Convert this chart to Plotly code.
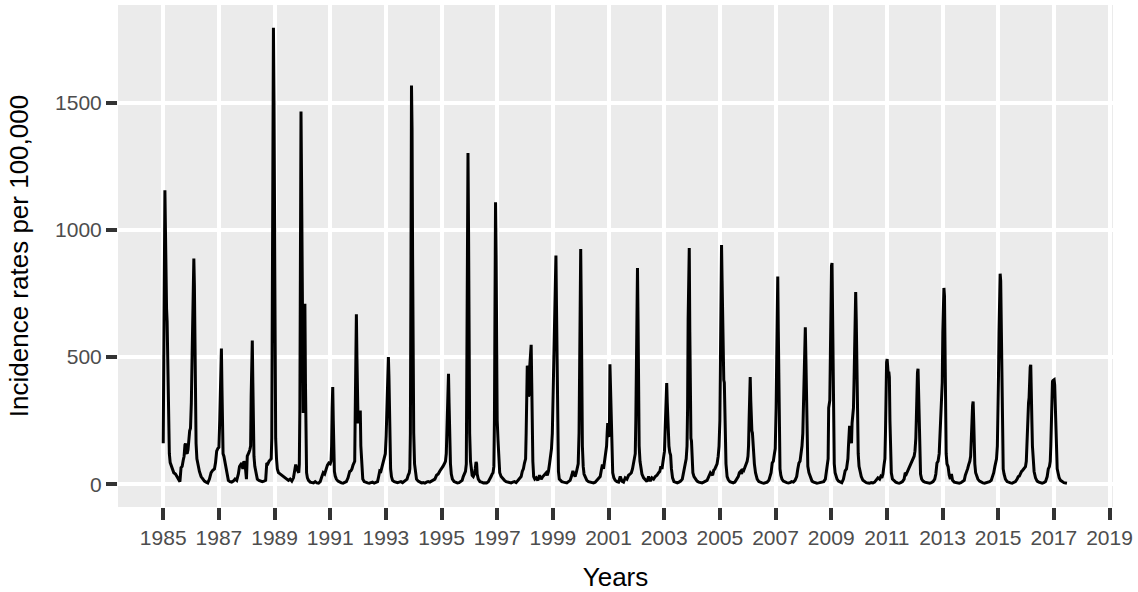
import plotly.graph_objects as go

# Weekly influenza-like illness incidence (per 100,000).
# Time in decimal years; one line per epidemic season.
time_years = [
    1985.00, 1985.04, 1985.06, 1985.08, 1985.10, 1985.12, 1985.14, 1985.16, 1985.18, 1985.20, 1985.22, 1985.25, 1985.29, 1985.33, 1985.38, 1985.44, 1985.50, 1985.56, 1985.60,
    1985.64, 1985.68, 1985.72, 1985.75, 1985.78, 1985.80, 1985.83, 1985.86, 1985.89, 1985.92, 1985.95, 1985.98, 1986.01, 1986.04, 1986.06, 1986.08, 1986.10, 1986.12, 1986.14, 1986.16, 1986.18, 1986.21, 1986.25, 1986.30, 1986.36, 1986.42, 1986.48, 1986.54, 1986.60,
    1986.66, 1986.72, 1986.78, 1986.84, 1986.88, 1986.92, 1986.96, 1987.00, 1987.03, 1987.05, 1987.07, 1987.09, 1987.11, 1987.13, 1987.15, 1987.18, 1987.21, 1987.25, 1987.29, 1987.34, 1987.40, 1987.46, 1987.52, 1987.58, 1987.64,
    1987.70, 1987.74, 1987.78, 1987.82, 1987.86, 1987.90, 1987.94, 1987.97, 1987.99, 1988.02, 1988.05, 1988.08, 1988.11, 1988.14, 1988.16, 1988.18, 1988.20, 1988.22, 1988.24, 1988.26, 1988.29, 1988.33, 1988.38, 1988.44, 1988.50, 1988.56, 1988.62, 1988.68,
    1988.72, 1988.76, 1988.80, 1988.84, 1988.88, 1988.90, 1988.92, 1988.94, 1988.96, 1988.98, 1989.00, 1989.02, 1989.04, 1989.07, 1989.10, 1989.14, 1989.20, 1989.26, 1989.32, 1989.38, 1989.44, 1989.50, 1989.56, 1989.62, 1989.68,
    1989.72, 1989.76, 1989.80, 1989.84, 1989.87, 1989.89, 1989.91, 1989.93, 1989.95, 1989.97, 1989.99, 1990.01, 1990.03, 1990.05, 1990.07, 1990.09, 1990.11, 1990.13, 1990.15, 1990.18, 1990.22, 1990.28, 1990.34, 1990.40, 1990.46, 1990.52, 1990.58, 1990.64,
    1990.70, 1990.75, 1990.80, 1990.85, 1990.90, 1990.95, 1991.00, 1991.03, 1991.05, 1991.07, 1991.09, 1991.11, 1991.13, 1991.15, 1991.18, 1991.22, 1991.28, 1991.34, 1991.40, 1991.46, 1991.52, 1991.58, 1991.64,
    1991.70, 1991.74, 1991.78, 1991.82, 1991.85, 1991.88, 1991.90, 1991.92, 1991.94, 1991.96, 1991.98, 1992.00, 1992.02, 1992.04, 1992.06, 1992.08, 1992.10, 1992.13, 1992.17, 1992.22, 1992.28, 1992.34, 1992.40, 1992.46, 1992.52, 1992.58, 1992.64, 1992.70,
    1992.74, 1992.78, 1992.82, 1992.86, 1992.90, 1992.94, 1992.98, 1993.01, 1993.03, 1993.05, 1993.07, 1993.09, 1993.11, 1993.13, 1993.15, 1993.17, 1993.20, 1993.24, 1993.30, 1993.36, 1993.42, 1993.48, 1993.54, 1993.60, 1993.66, 1993.72,
    1993.76, 1993.80, 1993.84, 1993.86, 1993.88, 1993.90, 1993.92, 1993.94, 1993.96, 1993.98, 1994.00, 1994.03, 1994.06, 1994.10, 1994.16, 1994.22, 1994.28, 1994.34, 1994.40, 1994.46, 1994.52, 1994.58, 1994.64, 1994.70,
    1994.76, 1994.82, 1994.88, 1994.94, 1995.00, 1995.05, 1995.10, 1995.14, 1995.17, 1995.19, 1995.21, 1995.23, 1995.25, 1995.27, 1995.29, 1995.32, 1995.35, 1995.39, 1995.45, 1995.51, 1995.57, 1995.63, 1995.69,
    1995.74, 1995.78, 1995.82, 1995.86, 1995.89, 1995.91, 1995.93, 1995.95, 1995.97, 1995.99, 1996.01, 1996.04, 1996.07, 1996.10, 1996.14, 1996.18, 1996.21, 1996.24, 1996.26, 1996.28, 1996.32, 1996.38, 1996.44, 1996.50, 1996.56, 1996.62, 1996.68,
    1996.74, 1996.78, 1996.82, 1996.85, 1996.88, 1996.90, 1996.92, 1996.94, 1996.96, 1996.98, 1997.00, 1997.03, 1997.06, 1997.09, 1997.14, 1997.20, 1997.26, 1997.32, 1997.38, 1997.44, 1997.50, 1997.56, 1997.62, 1997.68, 1997.74, 1997.80,
    1997.86, 1997.90, 1997.94, 1997.98, 1998.02, 1998.04, 1998.06, 1998.08, 1998.10, 1998.12, 1998.14, 1998.16, 1998.18, 1998.20, 1998.22, 1998.24, 1998.26, 1998.28, 1998.31, 1998.35, 1998.40, 1998.46, 1998.52, 1998.58, 1998.64, 1998.70, 1998.76, 1998.80, 1998.84,
    1998.88, 1998.92, 1998.95, 1998.98, 1999.01, 1999.04, 1999.07, 1999.09, 1999.11, 1999.13, 1999.15, 1999.17, 1999.20, 1999.23, 1999.27, 1999.32, 1999.38, 1999.44, 1999.50, 1999.56, 1999.62, 1999.68,
    1999.72, 1999.76, 1999.80, 1999.84, 1999.88, 1999.91, 1999.94, 1999.96, 1999.98, 2000.00, 2000.02, 2000.04, 2000.06, 2000.09, 2000.12, 2000.16, 2000.22, 2000.28, 2000.34, 2000.40, 2000.46, 2000.52, 2000.58, 2000.64,
    2000.70, 2000.74, 2000.78, 2000.82, 2000.86, 2000.90, 2000.93, 2000.95, 2000.97, 2000.99, 2001.01, 2001.03, 2001.05, 2001.07, 2001.09, 2001.12, 2001.15, 2001.19, 2001.24, 2001.30, 2001.36, 2001.42, 2001.48, 2001.54, 2001.60, 2001.66, 2001.72, 2001.78,
    2001.82, 2001.86, 2001.90, 2001.93, 2001.96, 2001.98, 2002.00, 2002.02, 2002.04, 2002.06, 2002.08, 2002.10, 2002.13, 2002.16, 2002.20, 2002.26, 2002.32, 2002.38, 2002.44, 2002.50, 2002.56, 2002.62, 2002.68, 2002.74, 2002.80,
    2002.84, 2002.88, 2002.92, 2002.95, 2002.98, 2003.01, 2003.03, 2003.05, 2003.07, 2003.09, 2003.11, 2003.13, 2003.15, 2003.17, 2003.20, 2003.23, 2003.26, 2003.30, 2003.35, 2003.41, 2003.47, 2003.53, 2003.59, 2003.65,
    2003.72, 2003.76, 2003.79, 2003.82, 2003.84, 2003.86, 2003.88, 2003.90, 2003.92, 2003.94, 2003.96, 2003.98, 2004.00, 2004.03, 2004.07, 2004.12, 2004.18, 2004.24, 2004.30, 2004.36, 2004.42, 2004.48, 2004.54, 2004.60, 2004.66,
    2004.70, 2004.74, 2004.78, 2004.82, 2004.86, 2004.90, 2004.94, 2004.97, 2005.00, 2005.02, 2005.04, 2005.06, 2005.08, 2005.10, 2005.12, 2005.14, 2005.16, 2005.19, 2005.22, 2005.26, 2005.30, 2005.36, 2005.42, 2005.48, 2005.54, 2005.60, 2005.66,
    2005.70, 2005.74, 2005.78, 2005.82, 2005.86, 2005.90, 2005.94, 2005.98, 2006.01, 2006.03, 2006.05, 2006.07, 2006.09, 2006.11, 2006.13, 2006.15, 2006.17, 2006.20, 2006.24, 2006.28, 2006.34, 2006.40, 2006.46, 2006.52, 2006.58, 2006.64, 2006.70, 2006.76,
    2006.80, 2006.84, 2006.88, 2006.92, 2006.96, 2006.99, 2007.02, 2007.04, 2007.06, 2007.08, 2007.10, 2007.12, 2007.14, 2007.16, 2007.19, 2007.23, 2007.28, 2007.34, 2007.40, 2007.46, 2007.52, 2007.58, 2007.64, 2007.70, 2007.76,
    2007.80, 2007.84, 2007.88, 2007.92, 2007.95, 2007.98, 2008.01, 2008.03, 2008.05, 2008.07, 2008.09, 2008.11, 2008.13, 2008.16, 2008.20, 2008.25, 2008.31, 2008.37, 2008.43, 2008.49, 2008.55, 2008.61, 2008.67, 2008.73, 2008.79,
    2008.82, 2008.86, 2008.89, 2008.91, 2008.93, 2008.95, 2008.97, 2008.99, 2009.01, 2009.03, 2009.05, 2009.07, 2009.09, 2009.11, 2009.14, 2009.17, 2009.21, 2009.26, 2009.32, 2009.38, 2009.44, 2009.50,
    2009.55, 2009.58, 2009.60, 2009.62, 2009.64, 2009.66, 2009.68, 2009.71, 2009.73, 2009.75, 2009.78, 2009.80, 2009.82, 2009.84, 2009.86, 2009.88, 2009.90, 2009.92, 2009.94, 2009.97, 2010.00, 2010.04, 2010.08, 2010.14, 2010.20, 2010.26, 2010.32, 2010.38, 2010.44, 2010.50, 2010.56, 2010.62, 2010.68,
    2010.74, 2010.78, 2010.82, 2010.86, 2010.90, 2010.93, 2010.95, 2010.97, 2010.99, 2011.01, 2011.03, 2011.05, 2011.07, 2011.09, 2011.11, 2011.13, 2011.16, 2011.20, 2011.26, 2011.32, 2011.38, 2011.44, 2011.50, 2011.56, 2011.62,
    2011.66, 2011.70, 2011.74, 2011.78, 2011.82, 2011.86, 2011.90, 2011.94, 2011.98, 2012.01, 2012.04, 2012.06, 2012.08, 2012.10, 2012.12, 2012.14, 2012.16, 2012.18, 2012.21, 2012.25, 2012.30, 2012.36, 2012.42, 2012.48, 2012.54, 2012.60, 2012.66, 2012.72,
    2012.76, 2012.80, 2012.84, 2012.88, 2012.91, 2012.93, 2012.96, 2012.99, 2013.01, 2013.03, 2013.05, 2013.07, 2013.09, 2013.11, 2013.13, 2013.16, 2013.20, 2013.24, 2013.28, 2013.32, 2013.36, 2013.42, 2013.48, 2013.54, 2013.60, 2013.66, 2013.72, 2013.78,
    2013.82, 2013.86, 2013.90, 2013.94, 2013.98, 2014.01, 2014.04, 2014.06, 2014.08, 2014.10, 2014.12, 2014.14, 2014.16, 2014.19, 2014.22, 2014.27, 2014.33, 2014.39, 2014.45, 2014.51, 2014.57, 2014.63, 2014.69, 2014.75, 2014.80,
    2014.84, 2014.88, 2014.91, 2014.94, 2014.97, 2014.99, 2015.01, 2015.03, 2015.05, 2015.07, 2015.09, 2015.11, 2015.13, 2015.15, 2015.18, 2015.21, 2015.26, 2015.32, 2015.38, 2015.44, 2015.50, 2015.56, 2015.62, 2015.68, 2015.72,
    2015.76, 2015.80, 2015.84, 2015.88, 2015.92, 2015.95, 2015.98, 2016.01, 2016.03, 2016.05, 2016.07, 2016.09, 2016.11, 2016.13, 2016.15, 2016.17, 2016.19, 2016.21, 2016.23, 2016.26, 2016.29, 2016.34, 2016.40, 2016.46, 2016.52, 2016.58, 2016.64, 2016.70, 2016.76,
    2016.80, 2016.84, 2016.87, 2016.89, 2016.91, 2016.93, 2016.95, 2016.97, 2016.99, 2017.01, 2017.03, 2017.05, 2017.07, 2017.09, 2017.12, 2017.15, 2017.19, 2017.24, 2017.30, 2017.36, 2017.42, 2017.47,
]

incidence = [
    161, 700, 1156, 1000, 720, 690, 640, 480, 330, 200, 120, 85, 70, 60, 45, 40, 28, 15, 10,
    65, 70, 95, 110, 155, 160, 125, 120, 135, 180, 210, 220, 320, 520, 650, 780, 888, 780, 500, 300, 160, 100, 75, 50, 30, 18, 12, 8, 5,
    20, 45, 55, 60, 85, 130, 140, 145, 250, 400, 520, 534, 380, 200, 120, 110, 90, 60, 30, 15, 10, 8, 12, 20, 15,
    40, 69, 75, 83, 60, 90, 80, 45, 20, 110, 115, 125, 135, 150, 350, 500, 565, 400, 200, 110, 70, 40, 20, 15, 12, 10, 12, 15,
    83, 80, 90, 96, 100, 180, 600, 1300, 1795, 1500, 900, 400, 180, 100, 60, 45, 40, 35, 32, 25, 20, 15, 20, 12, 25,
    50, 77, 60, 50, 45, 80, 300, 900, 1466, 1200, 700, 400, 280, 500, 700, 710, 400, 120, 45, 25, 15, 8, 5, 5, 10, 5, 4, 10,
    30, 45, 40, 60, 75, 83, 80, 90, 150, 300, 382, 250, 100, 50, 32, 20, 12, 8, 5, 4, 6, 10, 25,
    50, 52, 60, 75, 83, 90, 300, 600, 668, 500, 300, 240, 250, 270, 280, 290, 150, 60, 20, 10, 6, 5, 4, 5, 8, 4, 6, 10,
    30, 52, 50, 65, 83, 95, 120, 190, 300, 420, 480, 500, 420, 250, 120, 60, 30, 15, 10, 8, 6, 8, 10, 6, 10, 15,
    20, 35, 45, 60, 200, 800, 1568, 1400, 900, 450, 200, 80, 40, 20, 12, 8, 5, 6, 4, 8, 10, 8, 12, 15,
    20, 35, 40, 52, 60, 70, 80, 90, 120, 200, 330, 420, 434, 320, 180, 80, 40, 20, 10, 6, 5, 6, 10,
    15, 30, 39, 50, 80, 400, 1000, 1303, 1000, 500, 200, 90, 45, 35, 30, 40, 60, 88, 80, 40, 20, 10, 8, 5, 6, 5, 10,
    20, 30, 40, 45, 70, 250, 700, 1109, 900, 500, 250, 170, 70, 45, 30, 20, 15, 10, 8, 6, 5, 8, 10, 6, 15, 25,
    30, 50, 60, 83, 100, 200, 380, 466, 460, 345, 350, 450, 500, 530, 548, 400, 200, 90, 30, 20, 25, 15, 35, 20, 30, 40, 45, 35, 50,
    80, 120, 140, 200, 350, 550, 780, 880, 899, 700, 400, 150, 50, 20, 15, 10, 8, 6, 5, 10, 15, 35,
    52, 40, 30, 45, 60, 80, 200, 600, 880, 925, 700, 350, 150, 70, 40, 30, 15, 10, 8, 6, 5, 8, 15, 25,
    30, 55, 77, 60, 90, 110, 150, 200, 240, 230, 190, 188, 472, 380, 200, 83, 45, 25, 15, 10, 8, 30, 12, 8, 25, 20, 35, 40,
    45, 60, 80, 96, 120, 250, 500, 780, 850, 650, 350, 150, 90, 69, 40, 25, 15, 10, 30, 12, 25, 20, 30, 35, 45,
    50, 70, 60, 83, 100, 130, 200, 300, 380, 398, 320, 220, 201, 150, 125, 115, 60, 25, 10, 6, 5, 8, 12, 20,
    69, 80, 100, 150, 300, 650, 880, 929, 600, 250, 180, 170, 90, 45, 30, 20, 12, 8, 6, 5, 8, 12, 15, 30, 45,
    40, 35, 55, 60, 70, 80, 110, 150, 250, 450, 750, 941, 800, 600, 450, 410, 399, 200, 80, 30, 18, 10, 6, 5, 8, 20, 30,
    45, 50, 40, 60, 55, 65, 77, 90, 110, 150, 250, 380, 421, 330, 250, 210, 201, 120, 80, 45, 20, 10, 6, 5, 4, 6, 8, 15,
    30, 45, 83, 90, 120, 140, 300, 600, 780, 817, 600, 300, 120, 60, 35, 20, 12, 8, 6, 5, 6, 10, 8, 15, 30,
    60, 83, 90, 120, 150, 200, 320, 450, 570, 617, 500, 300, 150, 70, 45, 25, 12, 8, 5, 4, 5, 6, 8, 10, 20,
    40, 70, 100, 300, 320, 330, 500, 750, 860, 870, 700, 400, 180, 80, 45, 30, 20, 12, 8, 6, 20, 52,
    60, 80, 100, 150, 214, 230, 200, 170, 161, 240, 266, 300, 400, 600, 740, 756, 650, 450, 250, 120, 70, 45, 30, 15, 10, 6, 5, 4, 6, 5, 8, 15, 25,
    20, 30, 25, 40, 77, 100, 200, 380, 480, 492, 440, 430, 443, 420, 250, 100, 45, 20, 12, 8, 5, 4, 6, 10, 20,
    45, 40, 50, 60, 70, 75, 83, 95, 110, 130, 180, 260, 380, 440, 454, 350, 200, 90, 40, 20, 12, 8, 6, 5, 4, 6, 10, 20,
    40, 83, 90, 120, 200, 253, 280, 400, 600, 740, 772, 740, 500, 250, 120, 80, 69, 35, 20, 40, 15, 8, 6, 5, 4, 6, 10, 15,
    35, 45, 60, 77, 90, 110, 170, 250, 310, 325, 250, 150, 80, 45, 32, 20, 12, 8, 5, 4, 6, 5, 10, 15, 30,
    45, 69, 80, 100, 150, 250, 420, 600, 780, 828, 800, 600, 300, 120, 60, 40, 20, 10, 6, 5, 4, 6, 10, 20, 30,
    32, 45, 50, 55, 60, 65, 69, 90, 150, 280, 312, 320, 340, 420, 460, 470, 400, 250, 150, 80, 50, 25, 12, 8, 5, 4, 6, 10, 30,
    60, 69, 90, 150, 250, 360, 404, 408, 410, 411, 390, 300, 180, 90, 60, 45, 25, 15, 10, 6, 5, 4,
]

x_ticks = list(range(1985, 2020, 2))
y_ticks = [0, 500, 1000, 1500]
y_tick_labels = ["0", "500", "1000", "1500"]

assert len(time_years) == len(incidence), (len(time_years), len(incidence))

FONT = "Liberation Sans, Arial, Helvetica, sans-serif"

fig = go.Figure()
fig.add_trace(go.Scatter(
    x=time_years, y=incidence, mode="lines",
    line=dict(color="black", width=3),
    hoverinfo="skip", showlegend=False,
))

fig.update_layout(
    width=1138, height=592,
    margin=dict(l=118, r=25, t=5, b=85),
    paper_bgcolor="white", plot_bgcolor="#EBEBEB",
    font=dict(family=FONT, color="black"),
    showlegend=False,
)
fig.update_xaxes(
    range=[1983.375, 2019.125],
    tickmode="array", tickvals=x_ticks, ticktext=[str(v) for v in x_ticks],
    showgrid=True, gridcolor="white", gridwidth=3.5,
    zeroline=False, showline=False,
    ticks="outside", ticklen=12, tickwidth=3.5, tickcolor="#333333",
    tickfont=dict(size=21, color="#4D4D4D", family=FONT),
    title=dict(text="Years", font=dict(size=26, color="black", family=FONT), standoff=19),
)
fig.update_yaxes(
    range=[-89.8, 1885],
    tickmode="array", tickvals=y_ticks, ticktext=y_tick_labels,
    showgrid=True, gridcolor="white", gridwidth=3.5,
    zeroline=False, showline=False,
    ticks="outside", ticklen=11, tickwidth=3.5, tickcolor="#333333",
    tickfont=dict(size=21, color="#4D4D4D", family=FONT),
    title=dict(text="Incidence rates per 100,000", font=dict(size=26, color="black", family=FONT), standoff=18),
)

fig.write_html("out.html")
